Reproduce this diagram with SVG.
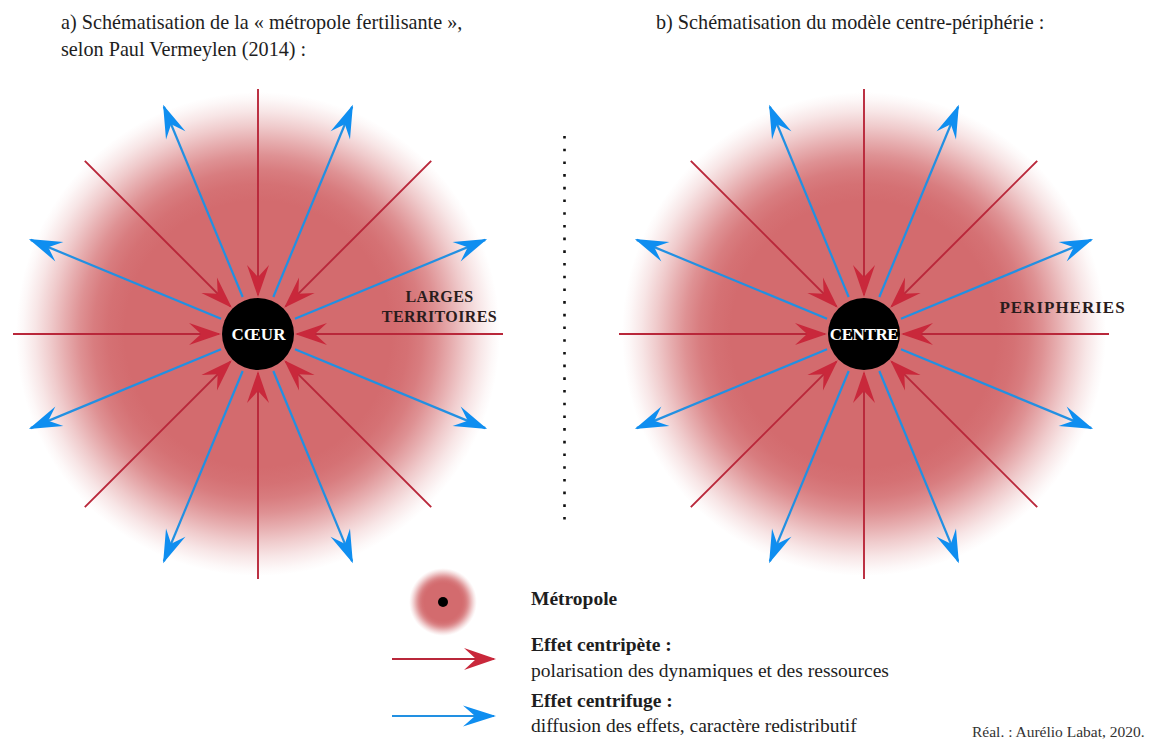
<svg xmlns="http://www.w3.org/2000/svg" width="1150" height="740" viewBox="0 0 1150 740">
<style>
  .title { font-family: "Liberation Serif", "Times New Roman", serif; font-size: 20.2px; fill: #1e1e1e; }
  .lab { font-family: "Liberation Serif", "Times New Roman", serif; font-size: 16px; font-weight: bold; fill: #2a1c1c; letter-spacing: 0.4px; }
  .core { font-family: "Liberation Serif", "Times New Roman", serif; font-size: 17px; font-weight: bold; fill: #ffffff; text-anchor: middle; }
  .lg-b { font-family: "Liberation Serif", "Times New Roman", serif; font-size: 19.5px; font-weight: bold; fill: #1e1e1e; }
  .lg { font-family: "Liberation Serif", "Times New Roman", serif; font-size: 19.5px; fill: #1e1e1e; }
  .credit { font-family: "Liberation Serif", "Times New Roman", serif; font-size: 15.5px; fill: #333; }
  .red { stroke: #b9273a; stroke-width: 1.9; fill: none; marker-end: url(#headRed); }
  .blue { stroke: #2290e2; stroke-width: 2.2; fill: none; marker-end: url(#headBlue); }
</style>
<defs>
  <radialGradient id="glow" cx="0.5" cy="0.5" r="0.5">
    <stop offset="0" stop-color="#d36b6e" stop-opacity="1"/>
    <stop offset="0.55" stop-color="#d36b6e" stop-opacity="1"/>
    <stop offset="0.62" stop-color="#d36b6e" stop-opacity="0.96"/>
    <stop offset="0.68" stop-color="#d36b6e" stop-opacity="0.88"/>
    <stop offset="0.74" stop-color="#d36b6e" stop-opacity="0.74"/>
    <stop offset="0.80" stop-color="#d36b6e" stop-opacity="0.55"/>
    <stop offset="0.86" stop-color="#d36b6e" stop-opacity="0.35"/>
    <stop offset="0.92" stop-color="#d36b6e" stop-opacity="0.17"/>
    <stop offset="0.97" stop-color="#d36b6e" stop-opacity="0.05"/>
    <stop offset="1" stop-color="#d36b6e" stop-opacity="0"/>
  </radialGradient>
  <marker id="headRed" markerUnits="userSpaceOnUse" viewBox="-36 -12 38 24" markerWidth="38" markerHeight="24" refX="-2" refY="0" orient="auto">
    <path d="M0,0 L-32,-11 L-20,0 L-32,11 Z" fill="#c9283b"/>
  </marker>
  <marker id="headBlue" markerUnits="userSpaceOnUse" viewBox="-36 -12 38 24" markerWidth="38" markerHeight="24" refX="-2" refY="0" orient="auto">
    <path d="M0,0 L-33,-10.5 L-21,0 L-33,10.5 Z" fill="#0f8ef0"/>
  </marker>
</defs>
<rect width="1150" height="740" fill="#ffffff"/>

<g id="titles">
  <text class="title" x="61" y="29">a) Schématisation de la « métropole fertilisante »,</text>
  <text class="title" x="61" y="56">selon Paul Vermeylen (2014) :</text>
  <text class="title" x="656" y="29">b) Schématisation du modèle centre-périphérie :</text>
</g>

<g id="glow-a"><circle cx="258" cy="334" r="242" fill="url(#glow)"/></g>
<g id="glow-b"><circle cx="864" cy="334" r="242" fill="url(#glow)"/></g>

<g id="separator">
  <line x1="564.5" y1="136" x2="564.5" y2="521" stroke="#111" stroke-width="2.6" stroke-dasharray="2.6 10.1"/>
</g>

<g id="connectors">
  <g id="connectors-a">
    <line class="red" x1="503" y1="334" x2="297" y2="334"/>
    <line class="red" x1="13" y1="334" x2="219" y2="334"/>
    <line class="red" x1="258" y1="579" x2="258" y2="373"/>
    <line class="red" x1="258" y1="89" x2="258" y2="295"/>
    <line class="red" x1="431.2" y1="507.2" x2="285.6" y2="361.6"/>
    <line class="red" x1="84.8" y1="507.2" x2="230.4" y2="361.6"/>
    <line class="red" x1="84.8" y1="160.8" x2="230.4" y2="306.4"/>
    <line class="red" x1="431.2" y1="160.8" x2="285.6" y2="306.4"/>
    <line class="blue" x1="294.96" y1="349.31" x2="485.28" y2="428.14"/>
    <line class="blue" x1="273.31" y1="370.96" x2="352.14" y2="561.28"/>
    <line class="blue" x1="242.69" y1="370.96" x2="163.86" y2="561.28"/>
    <line class="blue" x1="221.04" y1="349.31" x2="30.72" y2="428.14"/>
    <line class="blue" x1="221.04" y1="318.69" x2="30.72" y2="239.86"/>
    <line class="blue" x1="242.69" y1="297.04" x2="163.86" y2="106.72"/>
    <line class="blue" x1="273.31" y1="297.04" x2="352.14" y2="106.72"/>
    <line class="blue" x1="294.96" y1="318.69" x2="485.28" y2="239.86"/>
  </g>
  <g id="connectors-b">
    <line class="red" x1="1109" y1="334" x2="903" y2="334"/>
    <line class="red" x1="619" y1="334" x2="825" y2="334"/>
    <line class="red" x1="864" y1="579" x2="864" y2="373"/>
    <line class="red" x1="864" y1="89" x2="864" y2="295"/>
    <line class="red" x1="1037.2" y1="507.2" x2="891.6" y2="361.6"/>
    <line class="red" x1="690.8" y1="507.2" x2="836.4" y2="361.6"/>
    <line class="red" x1="690.8" y1="160.8" x2="836.4" y2="306.4"/>
    <line class="red" x1="1037.2" y1="160.8" x2="891.6" y2="306.4"/>
    <line class="blue" x1="900.96" y1="349.31" x2="1091.28" y2="428.14"/>
    <line class="blue" x1="879.31" y1="370.96" x2="958.14" y2="561.28"/>
    <line class="blue" x1="848.69" y1="370.96" x2="769.86" y2="561.28"/>
    <line class="blue" x1="827.04" y1="349.31" x2="636.72" y2="428.14"/>
    <line class="blue" x1="827.04" y1="318.69" x2="636.72" y2="239.86"/>
    <line class="blue" x1="848.69" y1="297.04" x2="769.86" y2="106.72"/>
    <line class="blue" x1="879.31" y1="297.04" x2="958.14" y2="106.72"/>
    <line class="blue" x1="900.96" y1="318.69" x2="1091.28" y2="239.86"/>
  </g>
</g>

<g id="node-coeur">
  <circle cx="258" cy="334" r="36" fill="#000"/>
  <text class="core" x="258.5" y="340">CŒUR</text>
</g>
<g id="node-centre">
  <circle cx="864" cy="334" r="36" fill="#000"/>
  <text class="core" x="864" y="340" letter-spacing="-0.4">CENTRE</text>
</g>

<g id="label-larges-territoires">
  <text class="lab" x="439.5" y="302" text-anchor="middle">LARGES</text>
  <text class="lab" x="439.5" y="322" text-anchor="middle">TERRITOIRES</text>
</g>
<g id="label-peripheries">
  <text class="lab" x="1062.5" y="313" text-anchor="middle" style="font-size:17px; letter-spacing:1px">PERIPHERIES</text>
</g>

<g id="legend">
  <circle cx="443" cy="602" r="34" fill="url(#glow)"/>
  <circle cx="443" cy="602" r="5" fill="#000"/>
  <text class="lg-b" x="531" y="605">Métropole</text>
  <line class="red" x1="392" y1="659" x2="494" y2="659"/>
  <text class="lg-b" x="531" y="651">Effet centripète :</text>
  <text class="lg" x="531" y="677">polarisation des dynamiques et des ressources</text>
  <line class="blue" x1="392" y1="716" x2="494" y2="716"/>
  <text class="lg-b" x="531" y="707">Effet centrifuge :</text>
  <text class="lg" x="531" y="732">diffusion des effets, caractère redistributif</text>
</g>

<g id="credit">
  <text class="credit" x="972" y="737">Réal. : Aurélio Labat, 2020.</text>
</g>
</svg>
